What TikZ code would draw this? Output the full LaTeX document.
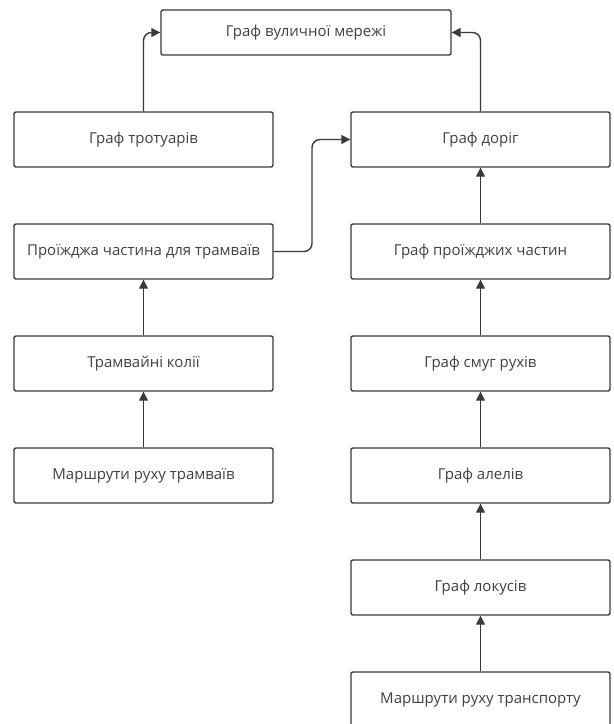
\documentclass[tikz,border=0pt]{standalone}
\usepackage{fontspec}
\setmainfont{Open Sans}
\usetikzlibrary{arrows.meta}
\definecolor{linegray}{HTML}{3A3A3A}
\definecolor{textgray}{HTML}{404040}
\tikzstyle{block}=[draw=linegray, line width=1.4pt, rounded corners=2pt, fill=white, text=textgray, font=\fontsize{15}{17}\selectfont, minimum width=259pt, minimum height=55pt, inner sep=0pt]
\tikzstyle{topblock}=[block, minimum width=290pt, minimum height=45pt]
\tikzstyle{link}=[draw=linegray, line width=1.4pt, rounded corners=8pt, -{Triangle[length=9pt,width=9pt]}]

\begin{document}
\begin{tikzpicture}[x=1pt, y=-1pt]
\useasboundingbox (0,0) rectangle (614,724);
\draw (306,32.5) node[topblock] (street) {Граф вуличної мережі};
\draw (143.5,139.5) node[block] (sidewalk) {Граф тротуарів};
\draw (143.5,251.5) node[block] (tramroad) {Проїжджа частина для трамваїв};
\draw (143.5,363.5) node[block] (tracks) {Трамвайні колії};
\draw (143.5,475.5) node[block] (tramroutes) {Маршрути руху трамваїв};
\draw (480.5,139.5) node[block] (roads) {Граф доріг};
\draw (480.5,251.5) node[block] (carriage) {Граф проїжджих частин};
\draw (480.5,363.5) node[block] (lanes) {Граф смуг рухів};
\draw (480.5,475.5) node[block] (alleles) {Граф алелів};
\draw (480.5,587.5) node[block] (loci) {Граф локусів};
\draw (480.5,699.5) node[block] (routes) {Маршрути руху транспорту};
\coordinate (bend) at (312,200);

\draw[link] (sidewalk) |- (street);
\draw[link] (roads) |- (street);
\draw[link] (tramroad.east) -| (bend) |- (roads.west);
\draw[link] (tracks) -- (tramroad);
\draw[link] (tramroutes) -- (tracks);
\draw[link] (carriage) -- (roads);
\draw[link] (lanes) -- (carriage);
\draw[link] (alleles) -- (lanes);
\draw[link] (loci) -- (alleles);
\draw[link] (routes) -- (loci);
\end{tikzpicture}
\end{document}
